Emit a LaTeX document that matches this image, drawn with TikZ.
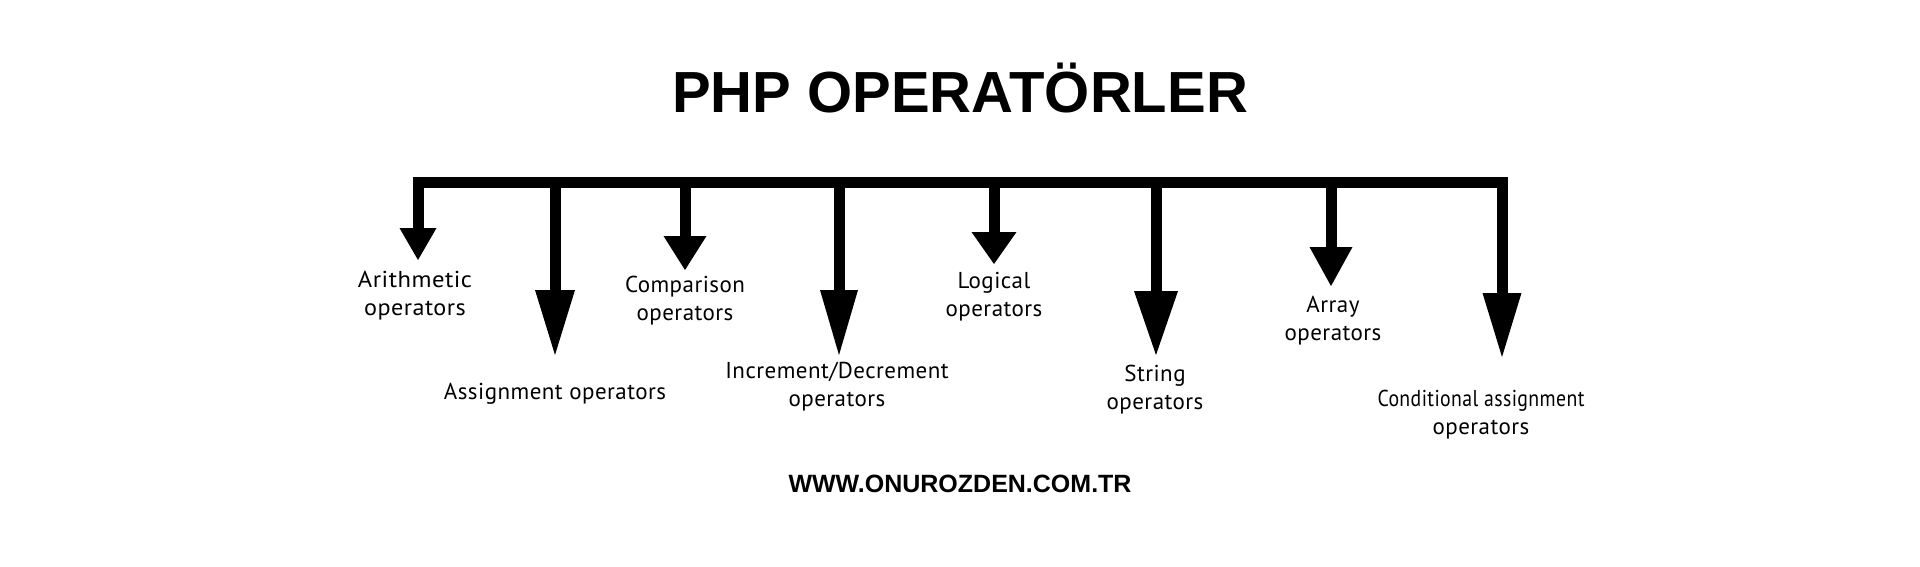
\documentclass[tikz,border=0pt]{standalone}
\usepackage{fontspec}
\setmainfont{Liberation Sans}
\newfontfamily\labelfont[LetterSpace=2]{PT Sans}
\usetikzlibrary{arrows.meta}
\begin{document}
\begin{tikzpicture}[x=1pt,y=-1pt,
  titletext/.style={font=\fontsize{58}{60}\selectfont\bfseries, anchor=base, inner sep=0pt},
  urltext/.style={font=\fontsize{25}{28}\selectfont\bfseries, anchor=base, inner sep=0pt},
  lbl/.style={font=\labelfont\fontsize{23}{28}\selectfont, align=center, anchor=base, inner sep=0pt},
  barline/.style={line width=11pt, line cap=rect},
  shaft/.style 2 args={line width=11pt, -{Triangle[length=#1pt, width=#2pt, line width=0pt]}}
]
\fill[white] (0,0) rectangle (1920,566);
\path[use as bounding box] (0,0) rectangle (1920,566);

\node[titletext] (title) at (960,112.5) {PHP OPERATÖRLER};

\coordinate (c1) at (418,182);
\coordinate (c2) at (555,182);
\coordinate (c3) at (685,182);
\coordinate (c4) at (839,182);
\coordinate (c5) at (994,182);
\coordinate (c6) at (1156,182);
\coordinate (c7) at (1331,182);
\coordinate (c8) at (1502,182);

\coordinate (t1) at (418,260);
\coordinate (t2) at (555,355);
\coordinate (t3) at (685,270);
\coordinate (t4) at (839,355);
\coordinate (t5) at (994,264);
\coordinate (t6) at (1156,355);
\coordinate (t7) at (1331,286);
\coordinate (t8) at (1502,357);

\draw[barline] (c1) -- (c8);
\draw[shaft={32}{37}] (c1) -- (t1);
\draw[shaft={65}{40}] (c2) -- (t2);
\draw[shaft={34}{43}] (c3) -- (t3);
\draw[shaft={65}{38}] (c4) -- (t4);
\draw[shaft={32}{45}] (c5) -- (t5);
\draw[shaft={64}{44}] (c6) -- (t6);
\draw[shaft={39}{43}] (c7) -- (t7);
\draw[shaft={64}{39}] (c8) -- (t8);

\node[lbl] (l1) at (415,315) {\scalebox{1.07}[1]{Arithmetic}\\\scalebox{1.05}[1]{operators}};
\node[lbl] (l2) at (555,399) {Assignment operators};
\node[lbl] (l3) at (685,320) {Comparison\\operators};
\node[lbl] (l4) at (837,406.7) {Increment/Decrement\\operators};
\node[lbl] (l5) at (994,316) {Logical\\operators};
\node[lbl] (l6) at (1155,409) {String\\operators};
\node[lbl] (l7) at (1333,340) {Array\\operators};
\node[lbl] (l8) at (1481,434) {\scalebox{0.86}[1]{Conditional assignment}\\operators};

\node[urltext] (url) at (960,492.7) {WWW.ONUROZDEN.COM.TR};
\end{tikzpicture}
\end{document}
